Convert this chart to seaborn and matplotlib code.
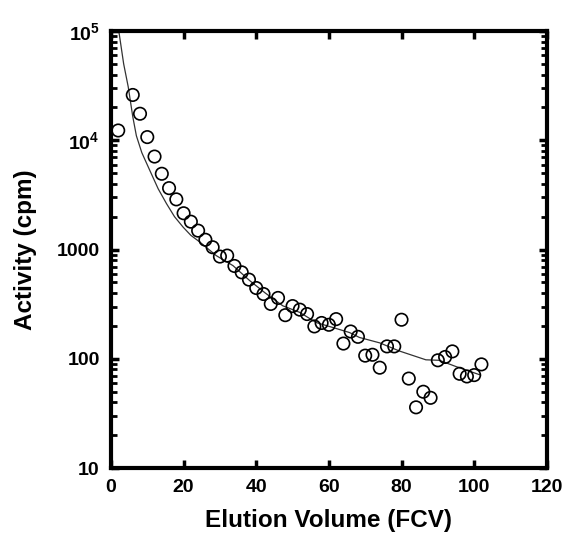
import numpy as np
import pandas as pd
import matplotlib
matplotlib.use("Agg")
import matplotlib.pyplot as plt
import seaborn as sns
from matplotlib.ticker import FixedLocator, FixedFormatter, LogLocator, NullFormatter

# measured activity
volume = [2, 6, 8, 10, 12, 14, 16, 18, 20, 22, 24, 26, 28, 30, 32, 34, 36, 38, 40,
          42, 44, 46, 48, 50, 52, 54, 56, 58, 60, 62, 64, 66, 68, 70, 72, 74, 76,
          78, 80, 82, 84, 86, 88, 90, 92, 94, 96, 98, 100, 102]
activity = [12300, 26000, 17500, 10700, 7100, 4940, 3650, 2880, 2150, 1800, 1490,
            1230, 1050, 863, 881, 708, 619, 531, 445, 392, 318, 361, 251, 304, 282,
            257, 198, 213, 205, 231, 138, 178, 159, 107, 109, 83, 130, 130, 228, 66,
            36, 50, 44, 97, 104, 117, 73, 69, 71, 89]

# fitted curve
fit_x = [2.0, 2.2, 3.5, 4.75, 6.0, 7.0, 8.5, 10.7, 13.0, 15.3, 17.5, 19.9, 22.0, 24.5,
         29.0, 33.6, 38.2, 42.5, 47.3, 52.0, 56.5, 61.0, 65.7, 68.4, 74.0, 79.4,
         86.7, 90.4, 95.0, 101.8]
fit_y = [115000, 98000, 50000, 30900, 16500, 11000, 7700, 5300, 3600, 2630, 2000,
         1600, 1350, 1170, 880, 713, 520, 400, 306, 266, 215, 194, 174, 157, 140, 118,
         98, 97, 85, 71]

x_ticks = [0, 20, 40, 60, 80, 100, 120]
y_ticks = [10, 100, 1000, 10000, 100000]
y_tick_labels = ["10", "100", "1000", r"$\mathbf{10^4}$", r"$\mathbf{10^5}$"]

sns.set_style("ticks")
plt.rcParams["font.family"] = ["Liberation Sans", "DejaVu Sans"]
plt.rcParams["font.weight"] = "bold"
plt.rcParams["mathtext.fontset"] = "custom"
plt.rcParams["mathtext.bf"] = "Liberation Sans:bold"
plt.rcParams["mathtext.rm"] = "Liberation Sans:bold"
plt.rcParams["axes.edgecolor"] = "black"
plt.rcParams["xtick.color"] = "black"
plt.rcParams["ytick.color"] = "black"
plt.rcParams["text.color"] = "black"
plt.rcParams["axes.labelcolor"] = "black"

fig = plt.figure(figsize=(5.69, 5.35), dpi=100)
ax = fig.add_axes([0.195, 0.125, 0.766, 0.817])

df_pts = pd.DataFrame({"volume": volume, "activity": activity})
df_fit = pd.DataFrame({"x": fit_x, "y": fit_y})

sns.lineplot(data=df_fit, x="x", y="y", ax=ax, color="#333333", linewidth=0.9,
             sort=False, estimator=None)
sns.scatterplot(data=df_pts, x="volume", y="activity", ax=ax, marker="o",
                s=80, facecolor="none", edgecolor="black", linewidth=1.2, zorder=3)

ax.set_yscale("log")
ax.set_xlim(0, 120)
ax.set_ylim(10, 100000)

ax.xaxis.set_major_locator(FixedLocator(x_ticks))
ax.set_xticklabels([str(v) for v in x_ticks])
ax.yaxis.set_major_locator(FixedLocator(y_ticks))
ax.yaxis.set_major_formatter(FixedFormatter(y_tick_labels))
ax.yaxis.set_minor_locator(LogLocator(base=10, subs=np.arange(2, 10)))
ax.yaxis.set_minor_formatter(NullFormatter())

for sp in ax.spines.values():
    sp.set_linewidth(3)
    sp.set_color("black")
    sp.set_visible(True)

ax.tick_params(axis="both", which="major", direction="in", length=6, width=2.5,
               top=True, right=True, labelsize=14, pad=8)
ax.tick_params(axis="y", which="minor", direction="in", length=4, width=2,
               left=True, right=True)
for lab in ax.get_xticklabels() + ax.get_yticklabels():
    lab.set_fontweight("bold")

ax.set_xlabel("Elution Volume (FCV)", fontsize=17.5, fontweight="bold", labelpad=9)
ax.set_ylabel("Activity (cpm)", fontsize=17.5, fontweight="bold", labelpad=14)

fig.savefig("out.png", dpi=100)
